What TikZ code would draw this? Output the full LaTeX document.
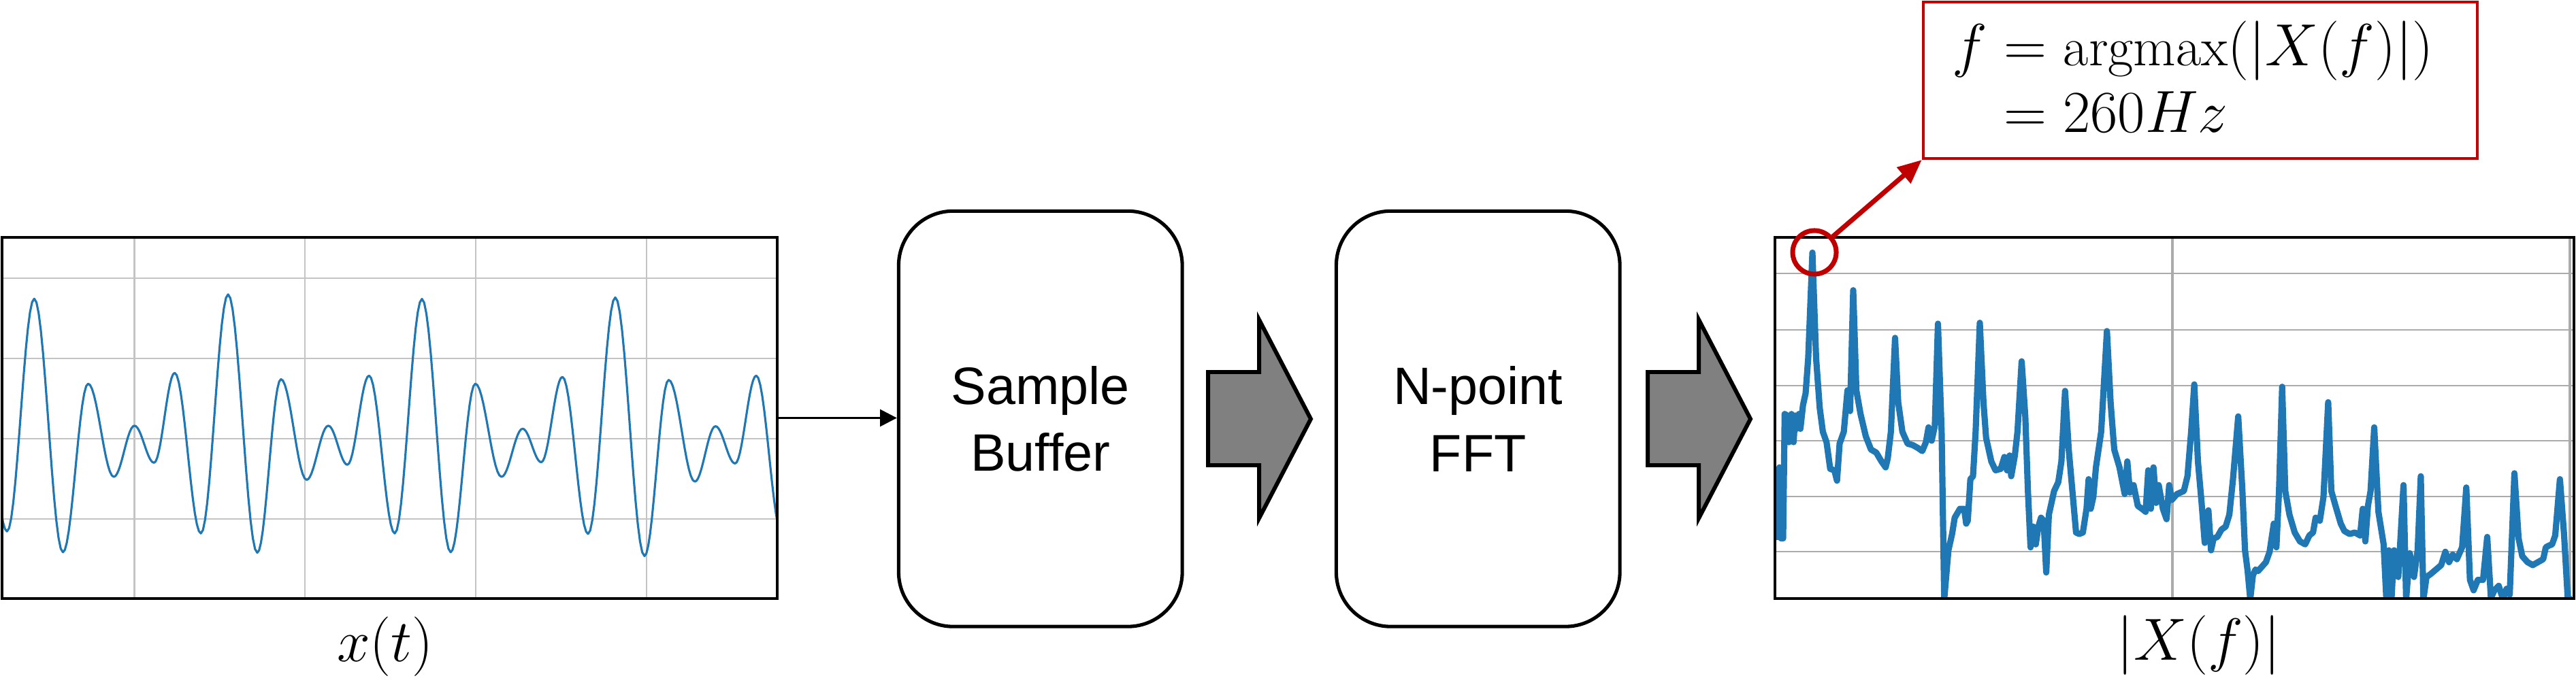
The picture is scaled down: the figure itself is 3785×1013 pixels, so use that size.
\documentclass[tikz,border=0pt]{standalone}
\usepackage{fontspec}
\newfontfamily\boxfont{Liberation Sans}
\usetikzlibrary{arrows.meta}
\definecolor{wblue}{HTML}{1F77B4}
\definecolor{dred}{HTML}{C00000}
\definecolor{arrgray}{HTML}{808080}
\definecolor{gridA}{HTML}{C4C4C4}
\definecolor{gridB}{HTML}{ABABAB}
\tikzset{
  plotframe/.style={draw=none, minimum width=#1, minimum height=5.29cm, inner sep=0pt},
  frameline/.style={draw=black, line width=1.2pt},
  stepbox/.style={draw=black, line width=1.45pt, rounded corners=0.8cm, minimum width=4.165cm, minimum height=6.105cm, inner sep=0pt, align=center, font=\boxfont\fontsize{22}{28}\selectfont},
  blockarrow/.style={draw=black, fill=arrgray, line width=1.7pt, line join=miter},
  mathlabel/.style={inner sep=0pt, font=\fontsize{23}{28}\selectfont},
  wave/.style={draw=wblue, line width=0.9pt},
  spec/.style={draw=wblue, line width=2.6pt, line join=round},
  gridlight/.style={draw=gridA, line width=0.6pt},
  gridspec/.style={draw=gridB, line width=0.7pt},
  conn/.style={draw=black, line width=1pt, -{Triangle[length=7pt,width=7pt]}},
  redconn/.style={draw=dred, line width=2pt, -{Triangle[length=10pt,width=8.5pt]}},
}
\begin{document}
\begin{tikzpicture}[x=0.01cm, y=-0.01cm]
\useasboundingbox (0,0) rectangle (3785,1013);

% plot frames (named, drawn later on top)
\node[plotframe=11.37cm] (tplot) at (572.5,614.5) {};
\node[plotframe=11.72cm] (fplot) at (3195,614.5) {};

% ---- time plot ----
\foreach \gx in {197.5,448,699,950} \draw[gridlight] (\gx,350) -- (\gx,879);
\foreach \gy in {409,527,645,763} \draw[gridlight] (4,\gy) -- (1141,\gy);
\begin{scope}
\clip (tplot.south west) rectangle (tplot.north east);
\begin{scope}[shift={(0,330)}, xscale=0.7398, yscale=0.3699]
\foreach \xb/\yb [remember=\xb as \xa (initially -38), remember=\yb as \ya (initially 590)] in
 {14/1220, 68/295, 125/1303, 175/633, 226/1003, 267/800, 306/947, 347/590,
  399/1228, 453/278, 511/1305, 558/615, 609/1015, 652/800, 690/955, 733/601,
  784/1228, 838/296, 895/1303, 944/633, 996/1003, 1038/812, 1075/945, 1117/606,
  1168/1230, 1222/290, 1280/1318, 1328/618, 1380/1022, 1421/802, 1460/950, 1502/601, 1553/1230}
  \draw[wave, line cap=round] plot[domain=0:1, samples=14, variable=\t]
    ({\xa+(\xb-\xa)*\t},{(\ya+\yb)/2+(\ya-\yb)/2*cos(180*\t)});
\end{scope}
\end{scope}
\draw[frameline] (tplot.south west) rectangle (tplot.north east);

% ---- spectrum plot ----
\foreach \gy in {402,485,567,648,730,811} \draw[gridspec] (2609,\gy) -- (3781,\gy);
\draw[draw=gridB, line width=1.3pt] (3192,350) -- (3192,879);
\draw[draw=gridB, line width=1.3pt] (3776,350) -- (3776,879);
\begin{scope}
\clip (fplot.south west) rectangle (fplot.north east);
\begin{scope}[shift={(2580,330)}, xscale=0.7686, yscale=0.4355]
\draw[spec] plot coordinates {
(38,1065) (42,850) (45,820) (48,1060) (52,1060) (55,640) (60,645) (63,735) (68,640) (72,735) (75,645) (78,690) (82,640) (85,690) (90,610) (95,570) (100,450) (108,95)
(115,450) (122,620) (128,700) (135,735) (142,825) (150,830) (155,865) (160,740) (168,700) (175,560) (180,630) (186,222)
(192,560) (200,640) (210,715) (220,760) (230,770) (240,800) (248,820) (252,790) (258,700) (266,383)
(272,600) (280,700) (290,740) (300,745) (310,755) (318,765) (325,735) (330,685) (336,730) (342,680) (348,335)
(355,700) (360,1265) (368,1100) (375,1045) (380,990) (390,960) (398,960) (402,1010) (405,1000) (410,860) (415,850) (420,700) (428,332)
(435,600) (440,720) (450,800) (458,830) (468,825) (475,785) (480,830) (485,780) (488,850) (495,780) (500,700) (508,462)
(515,650) (520,900) (525,1090) (530,1020) (535,1080) (540,1020) (545,990) (550,1000) (555,1175) (560,980) (570,900) (578,870) (584,800) (591,562)
(598,760) (605,900) (612,1040) (618,1045) (625,1040) (632,960) (636,860) (640,960) (645,920) (650,820) (660,700) (671,360)
(678,600) (685,760) (695,820) (705,910) (710,800) (715,905) (722,880) (730,950) (738,960) (745,970) (750,830) (755,960) (760,820) (765,940) (770,880) (778,960) (785,995) (790,880) (795,930) (805,910) (818,900) (825,850) (832,700) (838,540)
(845,800) (852,940) (858,1075) (865,965) (870,1100) (875,1060) (882,1055) (890,1030) (898,1020) (905,980) (912,860) (922,648)
(930,900) (935,1100) (940,1170) (945,1265) (950,1185) (955,1165) (960,1170) (965,1160) (975,1140) (982,1105) (990,1010) (995,1090) (1000,900) (1006,548)
(1012,900) (1020,980) (1030,1040) (1040,1070) (1050,1080) (1058,1050) (1065,1040) (1070,990) (1078,1000) (1085,920) (1094,600)
(1100,900) (1108,950) (1118,1010) (1125,1035) (1135,1045) (1145,1040) (1155,1050) (1160,960) (1165,1070) (1170,950) (1175,900) (1182,685)
(1190,970) (1200,1080) (1205,1260) (1210,1100) (1215,1265) (1220,1100) (1228,1190) (1238,880)
(1243,1265) (1250,1110) (1258,1190) (1265,1100) (1271,850)
(1276,1265) (1282,1190) (1290,1180) (1300,1165) (1310,1150) (1318,1105) (1325,1140) (1332,1115) (1340,1130) (1350,1090) (1358,888)
(1365,1200) (1372,1235) (1380,1200) (1390,1200) (1398,1055)
(1405,1260) (1412,1235) (1420,1220) (1428,1265) (1435,1230) (1441,1250) (1450,840)
(1458,1060) (1465,1120) (1475,1140) (1485,1150) (1495,1140) (1505,1130) (1510,1090) (1515,1085) (1522,1080) (1528,1050) (1537,860)
(1545,1050) (1552,1265) (1560,1265)};
\end{scope}
\end{scope}
\draw[frameline] (fplot.south west) rectangle (fplot.north east);

% ---- labels under plots ----
\node[mathlabel, anchor=base] (xtlabel) at (566,972) {$x(t)$};
\node[mathlabel, anchor=base] (xflabel) at (3231,970) {$|X(f)|$};

% ---- processing boxes ----
\node[stepbox] (sb) at (1528.75,615.75) {Sample\\Buffer};
\node[stepbox] (fft) at (2171.75,615.75) {N-point\\FFT};

% ---- block arrows ----
\foreach \dx/\nm in {0/ba1, 646/ba2} {
  \begin{scope}[xshift=\dx*0.01cm]
  \coordinate (\nm) at (1850,616);
  \draw[blockarrow] (1775,547) -- (1850,547) -- (1850,470) -- (1926,616) -- (1850,762) -- (1850,684) -- (1775,684) -- cycle;
  \end{scope}
}

% ---- connector from time plot ----
\draw[conn] (tplot.east) -- (tplot.east -| sb.west);

% ---- result box ----
\node[draw=dred, line width=1.15pt, minimum width=8.14cm, minimum height=2.30cm, inner sep=0pt] (res) at (3233,118) {};
\node[mathlabel, anchor=base west] (resl1) at (2868,97) {$f = \mathrm{argmax}(|X(f)|)$};
\node[mathlabel, anchor=base west] (resl2) at (2868,195) {$\phantom{f} = 260Hz$};

% ---- peak marker ----
\node[draw=dred, line width=2pt, circle, minimum size=0.64cm, inner sep=0pt] (peak) at (2666,371) {};
\draw[redconn] (peak) -- (res.south west);
\end{tikzpicture}
\end{document}
